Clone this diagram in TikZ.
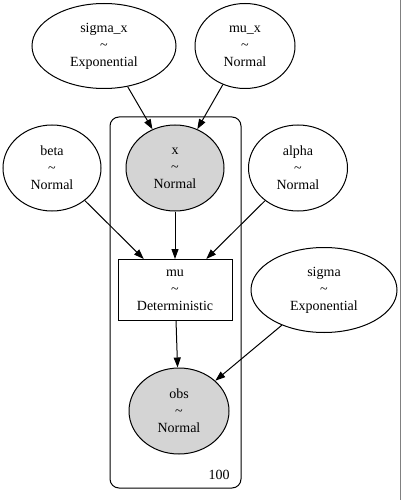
\documentclass[tikz,border=0pt]{standalone}
\usepackage{fontspec}
\setmainfont{Liberation Serif}
\usetikzlibrary{shapes.geometric,arrows.meta}
\begin{document}
\begin{tikzpicture}[x=1pt,y=-1pt,line width=1pt,
    rv/.style={draw,ellipse,inner sep=0pt,align=center,
      font=\fontsize{14}{17}\selectfont},
    obsrv/.style={rv,fill=black!17},
    detbox/.style={draw,rectangle,inner sep=0pt,align=center,
      font=\fontsize{14}{17}\selectfont,minimum width=114pt,minimum height=61pt},
    edge/.style={-{Triangle[length=10pt,width=7pt]}}]
  \useasboundingbox (0,0) rectangle (401,500);
  \draw[gray] (400.5,0) -- (400.5,500);
  % plate
  \draw[rounded corners=9pt] (110,117) rectangle (241,488);
  \node at (219,475) {\fontsize{14}{17}\selectfont 100};
  % priors
  \node(sigmax)[rv,minimum width=144pt,minimum height=85pt] at (104,46)
    {sigma\_x\\\textasciitilde\\Exponential};
  \node(mux)[rv,minimum width=100pt,minimum height=85pt] at (245,46)
    {mu\_x\\\textasciitilde\\Normal};
  \node(beta)[rv,minimum width=98pt,minimum height=86pt] at (52,168)
    {beta\\\textasciitilde\\Normal};
  \node(x)[obsrv,minimum width=98pt,minimum height=86pt] at (175,168)
    {x\\\textasciitilde\\Normal};
  \node(alpha)[rv,minimum width=99pt,minimum height=86pt] at (298,168)
    {alpha\\\textasciitilde\\Normal};
  \node(mu)[detbox] at (175,290)
    {mu\\\textasciitilde\\Deterministic};
  \node(sigma)[rv,minimum width=146pt,minimum height=85pt] at (324,290)
    {sigma\\\textasciitilde\\Exponential};
  \node(obs)[obsrv,minimum width=100pt,minimum height=86pt] at (179,411)
    {obs\\\textasciitilde\\Normal};
  % edges
  \draw[edge] (sigmax) -- (x);
  \draw[edge] (mux) -- (x);
  \draw[edge] (beta) -- (mu);
  \draw[edge] (x) -- (mu);
  \draw[edge] (alpha) -- (mu);
  \draw[edge] (mu) -- (obs);
  \draw[edge] (sigma) -- (obs);
\end{tikzpicture}
\end{document}
